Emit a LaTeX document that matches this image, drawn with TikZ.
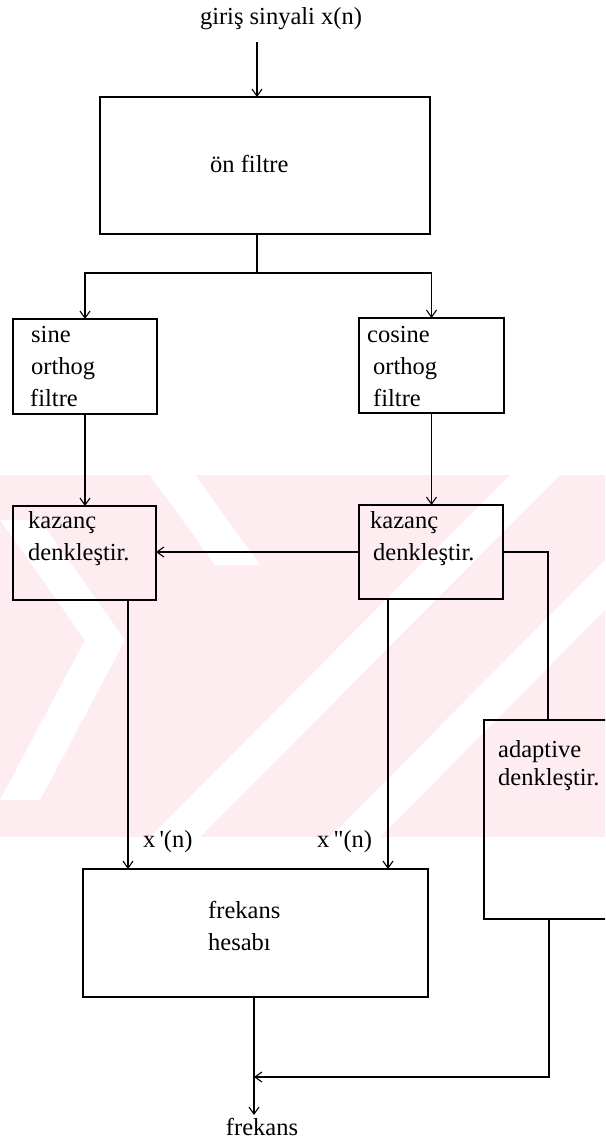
\documentclass[tikz,border=0pt]{standalone}
\usepackage{fontspec}
\setmainfont{Liberation Serif}
\usetikzlibrary{arrows.meta}
\definecolor{wm}{RGB}{253,237,240}
\begin{document}
\begin{tikzpicture}[x=1pt,y=-1pt,
  box/.style={draw, line width=1.7pt, inner sep=0pt, outer sep=0pt},
  lbl/.style={font=\fontsize{24.5}{29}\selectfont, inner sep=0pt, anchor=base west},
  conn/.style={line width=1.3pt},
  arr/.style={conn, -{Straight Barb[length=7pt,width=10pt,line width=1.1pt]}}]
\useasboundingbox (0,0) rectangle (605,1143);
\clip (0,0) rectangle (605,1143);
\fill[white] (0,0) rectangle (605,1143);
% watermark
\fill[wm] (0,475) rectangle (605,837);
\fill[white] (0,520) -- (40,520) -- (125,640) -- (40,800) -- (0,800) -- (85,640) -- cycle;
\fill[white] (150,475) -- (195,475) -- (260,565) -- (215,565) -- cycle;
\fill[white] (150,837) -- (200,837) -- (560,475) -- (510,475) -- cycle;
\fill[white] (330,837) -- (380,837) -- (605,610) -- (605,560) -- cycle;
% boxes
\node[box, minimum width=330pt, minimum height=137pt] (onf) at (265,165.5) {};
\node[box, minimum width=144pt, minimum height=95pt] (sine) at (85,366.5) {};
\node[box, minimum width=145pt, minimum height=95pt] (cos) at (431.5,365.5) {};
\node[box, minimum width=143pt, minimum height=94pt] (kazL) at (84.5,553) {};
\node[box, minimum width=144pt, minimum height=94pt] (kazR) at (431,552) {};
\node[box, minimum width=140pt, minimum height=199pt] (adp) at (554,819.5) {};
\node[box, minimum width=345pt, minimum height=128pt] (frk) at (255.5,933) {};
% texts
\node[lbl, anchor=base] (tin) at (281,24) {giriş sinyali x(n)};
\node[lbl] (tonf) at (210,172) {ön filtre};
\node[lbl] (ts1) at (31,342) {sine};
\node[lbl] (ts2) at (31,374) {orthog};
\node[lbl] (ts3) at (30,406) {filtre};
\node[lbl] (tc1) at (367,342) {cosine};
\node[lbl] (tc2) at (373,374) {orthog};
\node[lbl] (tc3) at (373,406) {filtre};
\node[lbl] (tkl1) at (28,528) {kazanç};
\node[lbl] (tkl2) at (28,560) {denkleştir.};
\node[lbl] (tkr1) at (370,528) {kazanç};
\node[lbl] (tkr2) at (373,560) {denkleştir.};
\node[lbl] (ta1) at (498,757) {adaptive};
\node[lbl] (ta2) at (498,785) {denkleştir.};
\node[lbl] (xp) at (143,847) {x\,\textquotesingle(n)};
\node[lbl] (xpp) at (317,847) {x\,\textquotedbl(n)};
\node[lbl] (tf1) at (208,918) {frekans};
\node[lbl] (tf2) at (208,950) {hesabı};
\node[lbl, anchor=base] (out) at (262,1135) {frekans};
% connectors
\coordinate (inA) at (257,42);
\draw[arr] (inA) -- (inA |- onf.north);
\coordinate (br) at (257,273);
\draw[conn] (br |- onf.south) -- (br);
\draw[arr] (br) -| (sine.north);
\draw[arr] (br) -| (cos.north);
\draw[arr] (sine.south) -- (sine.south |- kazL.north);
\draw[arr] (cos.south) -- (cos.south |- kazR.north);
\draw[arr] (kazR.west) -- (kazR.west -| kazL.east);
\coordinate (aIn) at (548,720);
\draw[conn] (kazR.east) -| (aIn);
\coordinate (xl) at (128,600);
\draw[arr] (xl) -- (xl |- frk.north);
\coordinate (xr) at (388,599);
\draw[arr] (xr) -- (xr |- frk.north);
\coordinate (fb) at (254,1077);
\coordinate (fo) at (254,1115);
\draw[arr] (fb |- frk.south) -- (fo);
\coordinate (aOut) at (549,919);
\draw[arr] (aOut) |- (fb);
\end{tikzpicture}
\end{document}
